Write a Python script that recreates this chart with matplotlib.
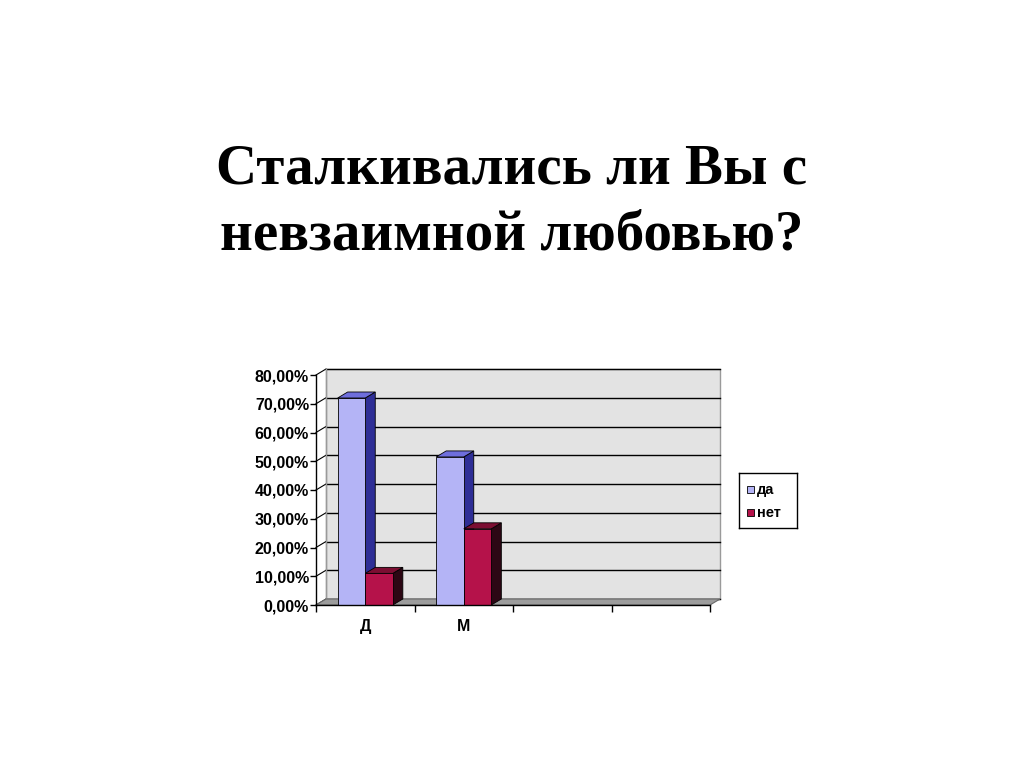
import matplotlib.pyplot as plt
from matplotlib.patches import Polygon, Rectangle

# data
categories = ['Д', 'М', '', '']
series_names = ['да', 'нет']
da_values = [72.0, 51.5]
net_values = [11.0, 26.5]
y_ticks = [0, 10, 20, 30, 40, 50, 60, 70, 80]
y_labels = ['0,00%', '10,00%', '20,00%', '30,00%', '40,00%', '50,00%',
            '60,00%', '70,00%', '80,00%']
title_lines = ['Сталкивались ли Вы с', 'невзаимной любовью?']

face_colors = ['#B4B4F6', '#B5124A']
side_colors = ['#2E2E96', '#2C0714']
top_colors = ['#6E6EDC', '#7C0E32']

fig = plt.figure(figsize=(10.24, 7.67), dpi=100)
fig.patch.set_facecolor('white')

# title, two lines, baselines at 183 and 249 px
for line, base in zip(title_lines, [183, 249]):
    fig.text(0.5, 1 - base / 767, line, ha='center', va='baseline', fontsize=41,
             fontweight='bold', family='Liberation Serif')

# front plane of the 3d chart, in pixels
left, right, bottom, top = 316, 710, 605, 375
ax = fig.add_axes([left / 1024, 1 - bottom / 767, (right - left) / 1024, (bottom - top) / 767])
ax.set_xlim(-0.5, len(categories) - 0.5)
ax.set_ylim(0, 80)
ax.patch.set_visible(False)
for s in ['top', 'right']:
    ax.spines[s].set_visible(False)
ax.spines['left'].set_linewidth(1)
ax.spines['bottom'].set_linewidth(1)

# depth of the 3d box, pixels -> data units
depth_px = (10, 6)
ddx = depth_px[0] * (len(categories)) / (right - left)
ddy = depth_px[1] * 80 / (bottom - top)
x0, x1 = -0.5, len(categories) - 0.5

# back wall
ax.add_patch(Rectangle((x0 + ddx, ddy), x1 - x0, 80, facecolor='#E3E3E3',
                       edgecolor='#9A9A9A', lw=1, clip_on=False, zorder=0))
for v in y_ticks:
    ax.plot([x0 + ddx, x1 + ddx], [v + ddy, v + ddy], color='black', lw=1,
            clip_on=False, zorder=1)
    ax.plot([x0, x0 + ddx], [v, v + ddy], color='black', lw=0.8,
            clip_on=False, zorder=1)
ax.plot([x0 + ddx, x0 + ddx], [ddy, 80 + ddy], color='#9A9A9A', lw=1, clip_on=False, zorder=1)

# floor
ax.add_patch(Polygon([(x0, 0), (x1, 0), (x1 + ddx, ddy), (x0 + ddx, ddy)],
                     closed=True, facecolor='#9C9C9C', edgecolor='#6A6A6A',
                     lw=0.8, clip_on=False, zorder=2))

# 3d bars
bar_w = 0.28
for si, vals in enumerate([da_values, net_values]):
    for ci, v in enumerate(vals):
        xl = ci - bar_w + si * bar_w
        xr = xl + bar_w
        z = 3 + ci * 2 + si
        ax.add_patch(Polygon([(xr, 0), (xr + ddx, ddy), (xr + ddx, v + ddy), (xr, v)],
                             closed=True, facecolor=side_colors[si], edgecolor='black',
                             lw=0.6, clip_on=False, zorder=z))
        ax.add_patch(Polygon([(xl, v), (xr, v), (xr + ddx, v + ddy), (xl + ddx, v + ddy)],
                             closed=True, facecolor=top_colors[si], edgecolor='black',
                             lw=0.6, clip_on=False, zorder=z))
        ax.add_patch(Rectangle((xl, 0), bar_w, v, facecolor=face_colors[si],
                               edgecolor='black', lw=0.6, clip_on=False, zorder=z))

ax.set_yticks(y_ticks)
ax.set_yticklabels(y_labels, fontsize=11.5, fontweight='bold', family='Liberation Sans')
ax.tick_params(axis='y', length=4, width=1, pad=1)
ax.set_xticks(range(len(categories)))
ax.set_xticklabels(categories, fontsize=11.5, fontweight='bold', family='Liberation Sans')
ax.set_xticks([i - 0.5 for i in range(len(categories) + 1)], minor=True)
ax.tick_params(axis='x', which='major', length=0, pad=10)
ax.tick_params(axis='x', which='minor', length=5, width=1)
ax.spines['left'].set_zorder(20)
ax.spines['bottom'].set_zorder(20)

# legend
lax = fig.add_axes([739 / 1024, 1 - 528 / 767, 58 / 1024, 55 / 767])
lax.set_xlim(0, 58)
lax.set_ylim(55, 0)
lax.set_xticks([])
lax.set_yticks([])
for s in lax.spines.values():
    s.set_linewidth(1)
for i, name in enumerate(series_names):
    yc = 17 + i * 23
    lax.add_patch(Rectangle((8, yc - 4), 7, 7, facecolor=face_colors[i], edgecolor='black', lw=0.6))
    lax.text(18, yc, name, va='center', ha='left', fontsize=10.5, fontweight='bold',
             family='Liberation Sans')

fig.savefig('out.png', dpi=100)
